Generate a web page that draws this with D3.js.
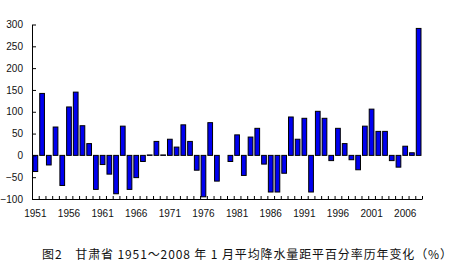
<!DOCTYPE html>
<html>
<head>
<meta charset="utf-8">
<script src="https://cdn.jsdelivr.net/npm/d3@7"></script>
<style>
  body { margin: 0; background: #fff; }
  svg { display: block; }
  .axis text { font-family: "Liberation Sans", Arial, sans-serif; font-size: 10px; fill: #111; }
  .axis path, .axis line { stroke: #000; }
</style>
</head>
<body>
<div id="chart"></div>
<script>
// 1月降水量距平百分率 (%), 1951-2008
const years = d3.range(1951, 2009);
const values = [
  -37, 142, -22, 65, -69, 111, 145, 68, 27, -78,
  -21, -43, -88, 67, -78, -51, -14, 1, 32, 1,
  37, 19, 70, 32, -34, -95, 75, -59, 0, -14,
  47, -46, 42, 62, -20, -84, -84, -41, 88, 37,
  85, -84, 101, 85, -12, 62, 27, -10, -33, 67,
  106, 55, 55, -12, -27, 21, 6, 291
];
const yTicks = [-100, -50, 0, 50, 100, 150, 200, 250, 300];
const labelYears = years.filter(d => (d - 1951) % 5 === 0);
const caption = "图2　甘肃省 1951～2008 年 1 月平均降水量距平百分率历年变化（%）";

const width = 454, height = 276;
const plotLeft = 32, plotRight = 422, plotTop = 24.5, plotBottom = 199;

const svg = d3.select("#chart").append("svg")
    .attr("width", width)
    .attr("height", height);

const x = d3.scaleBand()
    .domain(years)
    .range([plotLeft, plotRight])
    .paddingInner(0.3)
    .paddingOuter(0.15);

const y = d3.scaleLinear()
    .domain([-100, 300])
    .range([plotBottom, plotTop]);

// bars
svg.append("g")
    .selectAll("rect")
    .data(years)
    .join("rect")
    .attr("x", d => x(d))
    .attr("y", (d, i) => y(Math.max(0, values[i])))
    .attr("width", x.bandwidth())
    .attr("height", (d, i) => Math.abs(y(values[i]) - y(0)))
    .attr("fill", "#0000f0")
    .attr("stroke", "#000")
    .attr("stroke-width", 1);

// y axis, ticks pointing inward
svg.append("g")
    .attr("class", "axis")
    .attr("transform", `translate(${plotLeft},0)`)
    .call(d3.axisLeft(y).tickValues(yTicks).tickSize(-4).tickPadding(9).tickSizeOuter(0));

// x axis: small ticks on every band boundary
const xi = d3.scaleLinear().domain([0, years.length]).range([plotLeft, plotRight]);
svg.append("g")
    .attr("class", "axis")
    .attr("transform", `translate(0,${plotBottom})`)
    .call(d3.axisBottom(xi).tickValues(d3.range(years.length + 1)).tickSize(-3).tickFormat("").tickSizeOuter(0));

// x labels every 5 years
svg.append("g")
    .attr("class", "axis")
    .attr("transform", `translate(0,${plotBottom})`)
    .call(d3.axisBottom(x).tickValues(labelYears).tickSize(0).tickPadding(11))
    .call(g => g.select(".domain").remove());

// caption
svg.append("text")
    .attr("x", 42)
    .attr("y", 259)
    .attr("textLength", 410)
    .attr("lengthAdjust", "spacing")
    .style("font-family", "'Noto Sans CJK SC', sans-serif")
    .style("font-size", "12px")
    .style("fill", "#111")
    .text(caption);
</script>
</body>
</html>
